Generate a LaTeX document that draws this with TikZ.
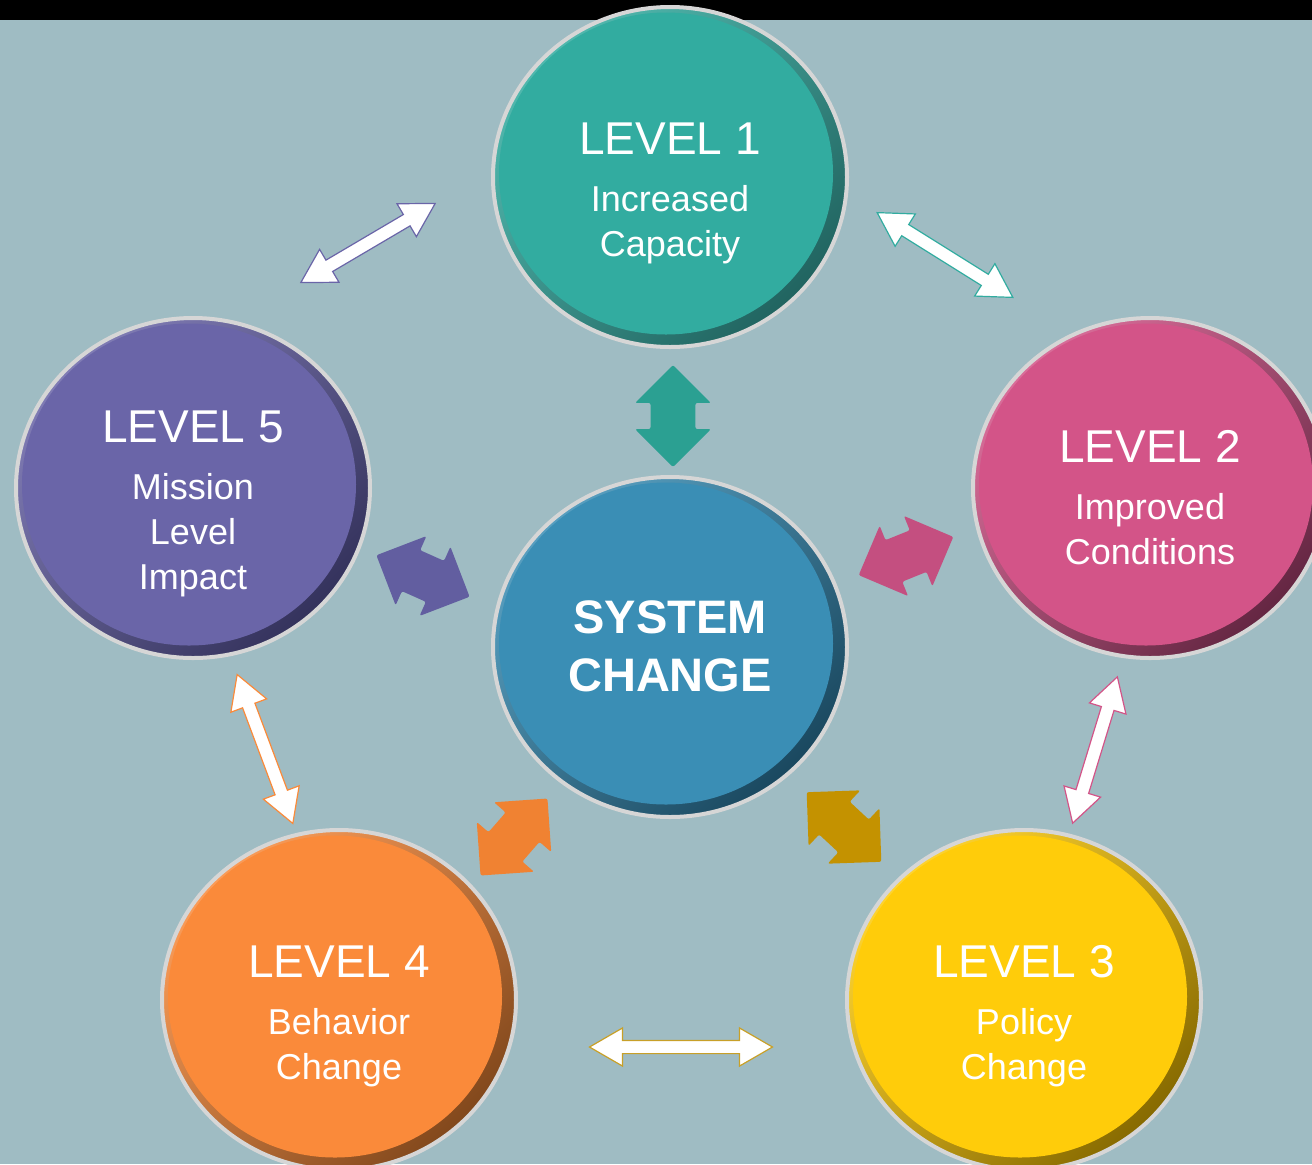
\documentclass[tikz,border=0pt]{standalone}
\usepackage{fontspec}
\setmainfont{Liberation Sans}
\usetikzlibrary{shapes.geometric,shapes.arrows,calc}
\definecolor{bgblue}{RGB}{159,188,195}
\definecolor{rimgray}{RGB}{214,214,214}
\definecolor{tealmain}{RGB}{50,172,160}
\definecolor{tealdark}{RGB}{33,100,96}
\definecolor{pinkmain}{RGB}{211,84,136}
\definecolor{pinkdark}{RGB}{100,38,66}
\definecolor{purplemain}{RGB}{106,101,168}
\definecolor{purpledark}{RGB}{52,50,92}
\definecolor{bluemain}{RGB}{58,142,181}
\definecolor{bluedark}{RGB}{26,72,95}
\definecolor{orangemain}{RGB}{250,138,58}
\definecolor{orangedark}{RGB}{130,72,28}
\definecolor{yellowmain}{RGB}{255,204,10}
\definecolor{yellowdark}{RGB}{135,106,0}
\definecolor{yellowline}{RGB}{200,160,40}
\definecolor{tealarrow}{RGB}{43,160,146}
\definecolor{pinkarrow}{RGB}{196,79,128}
\definecolor{purplearrow}{RGB}{98,94,160}
\definecolor{orangearrow}{RGB}{240,130,50}
\definecolor{goldarrow}{RGB}{196,146,0}

\begin{document}
\begin{tikzpicture}[x=0.5pt, y=-0.5pt,
level/.style 2 args={ellipse, minimum width=177pt, minimum height=170pt, inner sep=0pt,
  draw=rimgray, line width=2pt, top color=#1!85!white, bottom color=#2, shading angle=45,
  path picture={\fill[#1] ([xshift=-2pt,yshift=1.75pt]path picture bounding box.center)
    ellipse [x radius=83.5pt, y radius=80.5pt];}},
levtext/.style={anchor=north, inner sep=0pt, text=white, align=center,
  font=\fontsize{18}{22.5}\selectfont},
hubtext/.style={anchor=north, inner sep=0pt, text=white, align=center,
  font=\bfseries\fontsize{23.5}{29}\selectfont},
linkarrow/.style={double arrow, draw=#1, fill=white, line width=0.6pt, inner xsep=0pt,
  inner ysep=3pt, minimum width=18.5pt, double arrow head extend=6.25pt,
  double arrow tip angle=60},
pusharrow/.style={double arrow, fill=#1, inner xsep=0pt, inner ysep=11pt,
  minimum width=37.5pt, minimum height=51pt, double arrow head extend=7.75pt,
  double arrow tip angle=90, rounded corners=1pt}
]

\clip (0,0) rectangle (1312,1164);
\fill[bgblue] (0,0) rectangle (1312,1164);
\fill[black] (0,0) rectangle (1312,19.5);

% the six discs
\node[level={tealmain}{tealdark}] (l1) at (670,177) {};
\node[level={pinkmain}{pinkdark}] (l2) at (1150,488) {};
\node[level={yellowmain}{yellowdark}] (l3) at (1024,1000) {};
\node[level={orangemain}{orangedark}] (l4) at (339,1000) {};
\node[level={purplemain}{purpledark}] (l5) at (193,488) {};
\node[level={bluemain}{bluedark}] (sys) at (670,647) {};

\node[levtext] (t1) at ([yshift=27.5pt]l1.center)
  {{\fontsize{23}{23}\selectfont LEVEL 1}\\[6pt]Increased\\Capacity};
\node[levtext] (t2) at ([yshift=29pt]l2.center)
  {{\fontsize{23}{23}\selectfont LEVEL 2}\\[6pt]Improved\\Conditions};
\node[levtext] (t3) at ([yshift=27.5pt]l3.center)
  {{\fontsize{23}{23}\selectfont LEVEL 3}\\[6pt]Policy\\Change};
\node[levtext] (t4) at ([yshift=27.5pt]l4.center)
  {{\fontsize{23}{23}\selectfont LEVEL 4}\\[6pt]Behavior\\Change};
\node[levtext] (t5) at ([yshift=39pt]l5.center)
  {{\fontsize{23}{23}\selectfont LEVEL 5}\\[6pt]Mission\\Level\\Impact};
\node[hubtext] (tsys) at ([yshift=23.5pt]sys.center) {SYSTEM\\CHANGE};

% arrows to the hub
\node[pusharrow=tealarrow, rotate=90] (p1) at (673,416) {};
\node[pusharrow=pinkarrow, rotate=22] (p2) at (906,556) {};
\node[pusharrow=goldarrow, rotate=-43] (p3) at (844,827) {};
\node[pusharrow=orangearrow, rotate=49] (p4) at (514,837) {};
\node[pusharrow=purplearrow, rotate=-24] (p5) at (423,576) {};

% arrows round the ring
\node[linkarrow=purplemain, minimum height=78pt, rotate=30.5] (a51) at (368,243) {};
\node[linkarrow=tealmain, minimum height=80pt, rotate=-32] (a12) at (945,255) {};
\node[linkarrow=pinkmain, minimum height=76.5pt, rotate=73] (a23) at (1095,750) {};
\node[linkarrow=yellowline, minimum height=91.5pt] (a34) at (681,1047) {};
\node[linkarrow=orangemain, minimum height=79.5pt, rotate=-69.5] (a45) at (265,749) {};

\end{tikzpicture}
\end{document}
